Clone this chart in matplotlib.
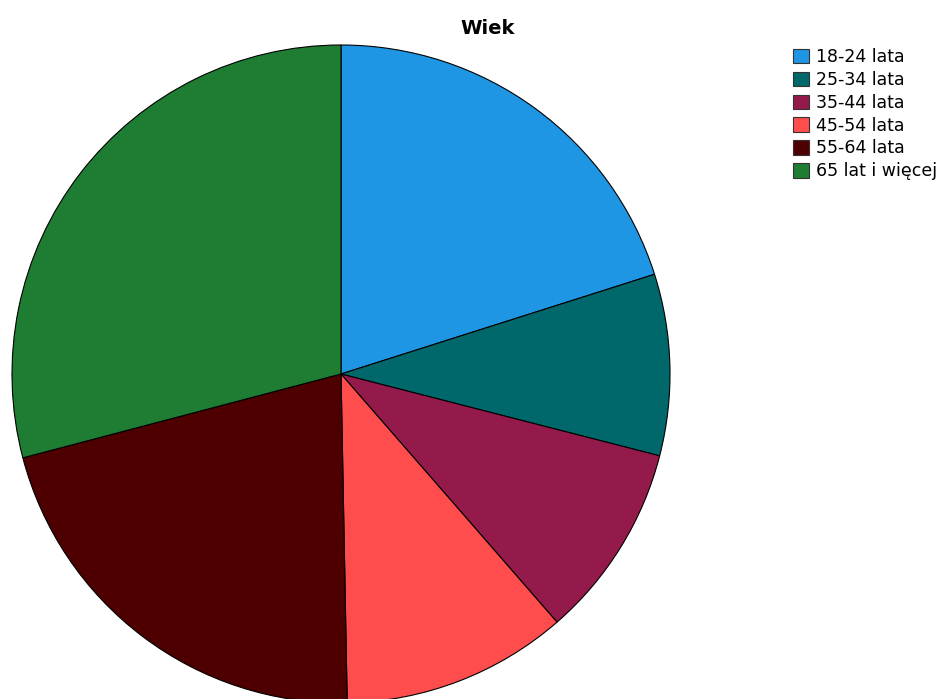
import matplotlib
matplotlib.use("Agg")
import matplotlib.pyplot as plt
from matplotlib.patches import Patch

categories = ["18-24 lata", "25-34 lata", "35-44 lata", "45-54 lata", "55-64 lata", "65 lat i więcej"]
values = [20.1, 8.9, 9.6, 11.1, 21.2, 29.1]
colors = ["#1f96e3", "#00686a", "#951a4c", "#ff4c4c", "#4e0000", "#1e7d33"]

W, H = 941, 699
fig = plt.figure(figsize=(W / 100, H / 100), dpi=100)
cx, cy, r = 341, 374, 329
ax = fig.add_axes([(cx - r) / W, (H - cy - r) / H, 2 * r / W, 2 * r / H])
ax.pie(values, colors=colors, startangle=90, counterclock=False, radius=1,
       wedgeprops=dict(edgecolor="black", linewidth=0.8))
ax.set_xlim(-1, 1)
ax.set_ylim(-1, 1)
ax.set_aspect("equal")
ax.axis("off")

fig.text(488 / W, 1 - 29 / H, "Wiek", ha="center", va="center", fontsize=14,
         fontweight="bold", family="DejaVu Sans")

handles = [Patch(facecolor=c, edgecolor="#333333", linewidth=0.8) for c in colors]
fig.legend(handles, categories, loc="upper left", bbox_to_anchor=(793 / W, 1 - 48 / H),
           frameon=False, fontsize=12.5, handlelength=0.9, handleheight=0.9,
           handletextpad=0.4, labelspacing=0.28, borderpad=0, borderaxespad=0)

fig.savefig("out.png", dpi=100)
